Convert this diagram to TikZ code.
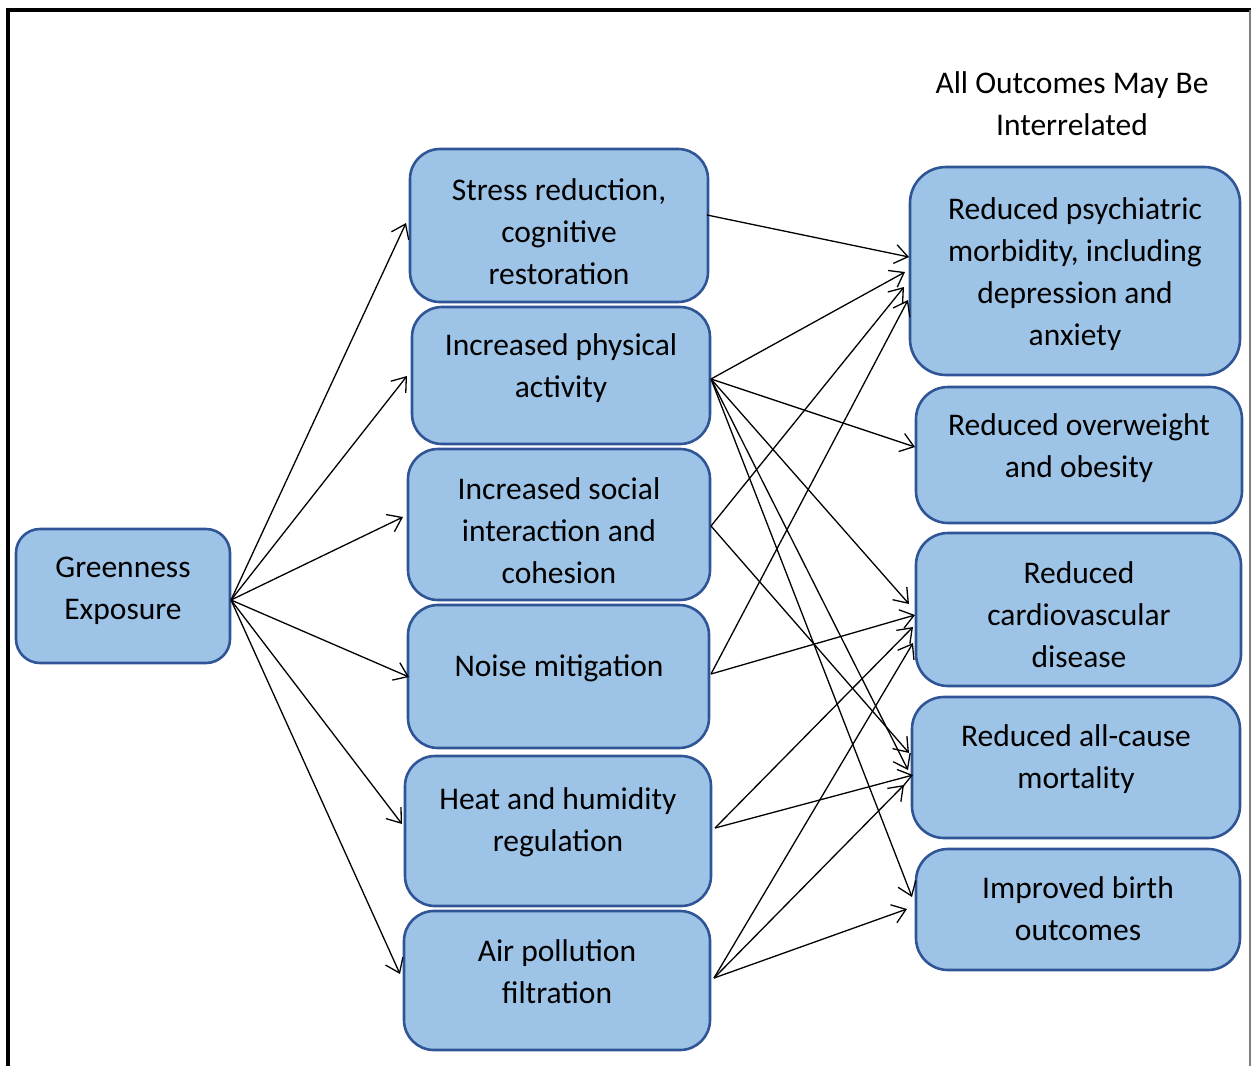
\documentclass[tikz,border=0pt]{standalone}
\usepackage{fontspec}
\setmainfont{Carlito}
\usetikzlibrary{arrows.meta}
\definecolor{boxfill}{RGB}{157,195,230}
\definecolor{boxline}{RGB}{47,85,151}
\begin{document}
\begin{tikzpicture}[x=1pt,y=-1pt,
  box/.style={draw=boxline,fill=boxfill,line width=2.6pt,rounded corners=#1,inner sep=0pt,outer sep=0pt},
  box/.default=30pt,
  lbl/.style={align=center,font=\fontsize{31.5}{42}\selectfont,inner sep=0pt},
  arr/.style={line width=1.3pt,-{Straight Barb[length=13pt,width=19pt,line width=1.3pt]}}]
\useasboundingbox (0,0) rectangle (1251,1066);
% frame
\draw[line width=4pt] (8,1066) -- (8,10) -- (1251,10);
\draw[line width=1.5pt,gray] (1250,10) -- (1250,1066);
% title
\node[lbl] (title) at (1072,103.5) {All Outcomes May Be\\Interrelated};
% boxes
\node[box=24pt,minimum width=214pt,minimum height=134pt] (G) at (123,596) {};
\node[box,minimum width=298pt,minimum height=153pt] (S1) at (559,225.5) {};
\node[box,minimum width=298pt,minimum height=137pt] (S2) at (561,375.5) {};
\node[box,minimum width=302pt,minimum height=151pt] (S3) at (559,524.5) {};
\node[box,minimum width=301pt,minimum height=143pt] (S4) at (558.5,676.5) {};
\node[box,minimum width=306pt,minimum height=150pt] (S5) at (558,831) {};
\node[box,minimum width=306pt,minimum height=139pt] (S6) at (557,980.5) {};
\node[box=36pt,minimum width=330pt,minimum height=208pt] (O1) at (1075,271) {};
\node[box=32pt,minimum width=326pt,minimum height=136pt] (O2) at (1079,455) {};
\node[box=32pt,minimum width=325pt,minimum height=153pt] (O3) at (1078.5,609.5) {};
\node[box=32pt,minimum width=328pt,minimum height=141pt] (O4) at (1076,767.5) {};
\node[box=32pt,minimum width=324pt,minimum height=121pt] (O5) at (1078,909.5) {};
% texts
\node[lbl] (tG) at (123,590.5) {Greenness\\Exposure};
\node[lbl] (tS1) at (559,232) {Stress reduction,\\cognitive\\restoration};
\node[lbl] (tS2) at (561,368.5) {Increased physical\\activity};
\node[lbl] (tS3) at (559,531) {Increased social\\interaction and\\cohesion};
\node[lbl] (tS4) at (559,668) {Noise mitigation};
\node[lbl] (tS5) at (558,822) {Heat and humidity\\regulation};
\node[lbl] (tS6) at (557,972) {Air pollution\\filtration};
\node[lbl] (tO1) at (1075,274) {Reduced psychiatric\\morbidity, including\\depression and\\anxiety};
\node[lbl] (tO2) at (1079,448.5) {Reduced overweight\\and obesity};
\node[lbl] (tO3) at (1079,615) {Reduced\\cardiovascular\\disease};
\node[lbl] (tO4) at (1076,759) {Reduced all-cause\\mortality};
\node[lbl] (tO5) at (1078,909) {Improved birth\\outcomes};
% arrows from Greenness
\draw[arr] ([shift={(1pt,-4pt)}]G.east) -- ([shift={(-4pt,2.5pt)}]S1.west);
\draw[arr] ([shift={(1pt,-4pt)}]G.east) -- ([shift={(-5pt,-0.5pt)}]S2.west);
\draw[arr] ([shift={(1pt,-4pt)}]G.east) -- ([shift={(-5pt,7.5pt)}]S3.west);
\draw[arr] ([shift={(1pt,-4pt)}]G.east) -- ([shift={(1pt,-0.5pt)}]S4.west);
\draw[arr] ([shift={(1pt,-4pt)}]G.east) -- ([shift={(-3pt,7pt)}]S5.west);
\draw[arr] ([shift={(1pt,-4pt)}]G.east) -- ([shift={(-4pt,6.5pt)}]S6.west);
% to psychiatric
\draw[arr] ([shift={(-1pt,10.5pt)}]S1.east) -- ([shift={(-1pt,14pt)}]O1.west);
\draw[arr] ([shift={(1pt,-3.5pt)}]S2.east) -- ([shift={(-5pt,-1pt)}]O1.west);
\draw[arr] ([shift={(1pt,-1.5pt)}]S3.east) -- ([shift={(-6pt,-16pt)}]O1.west);
\draw[arr] ([shift={(2pt,2.5pt)}]S4.east) -- ([shift={(-2pt,-29pt)}]O1.west);
% to overweight
\draw[arr] ([shift={(1pt,-3.5pt)}]S2.east) -- ([shift={(-1pt,8pt)}]O2.west);
% to cardiovascular
\draw[arr] ([shift={(1pt,-3.5pt)}]S2.east) -- ([shift={(-7pt,5.5pt)}]O3.west);
\draw[arr] ([shift={(2pt,2.5pt)}]S4.east) -- ([shift={(-1pt,-5.5pt)}]O3.west);
\draw[arr] ([shift={(4pt,3pt)}]S5.east) -- ([shift={(-3pt,-17.5pt)}]O3.west);
\draw[arr] ([shift={(4pt,2.5pt)}]S6.east) -- ([shift={(-3pt,-33.5pt)}]O3.west);
% to all-cause
\draw[arr] ([shift={(1pt,-1.5pt)}]S3.east) -- ([shift={(-3pt,14.5pt)}]O4.west);
\draw[arr] ([shift={(1pt,-3.5pt)}]S2.east) -- ([shift={(-4pt,-2.5pt)}]O4.west);
\draw[arr] ([shift={(4pt,3pt)}]S5.east) -- ([shift={(1pt,-7.5pt)}]O4.west);
\draw[arr] ([shift={(4pt,2.5pt)}]S6.east) -- ([shift={(-8pt,-17.5pt)}]O4.west);
% to birth
\draw[arr] ([shift={(1pt,-3.5pt)}]S2.east) -- ([shift={(-4pt,12.5pt)}]O5.west);
\draw[arr] ([shift={(4pt,2.5pt)}]S6.east) -- ([shift={(-9pt,0.5pt)}]O5.west);
\end{tikzpicture}
\end{document}
